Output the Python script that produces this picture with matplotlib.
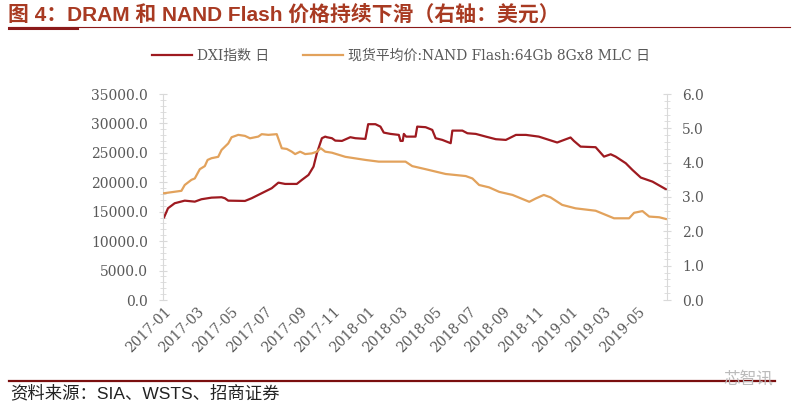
import matplotlib.pyplot as plt
import matplotlib.dates as mdates
from matplotlib.ticker import MultipleLocator, FormatStrFormatter
import numpy as np
import pandas as pd

#----------------------------------------------------------------------------------------#
# Data

dxi_dates = ["2017-01-01", "2017-01-08", "2017-01-20", "2017-02-07", "2017-02-25", "2017-03-09",
             "2017-03-27", "2017-04-14", "2017-04-20", "2017-04-26", "2017-05-26", "2017-06-07",
             "2017-06-25", "2017-07-13", "2017-07-25", "2017-08-06", "2017-08-27", "2017-09-05",
             "2017-09-17", "2017-09-26", "2017-10-02", "2017-10-11", "2017-10-17", "2017-10-20",
             "2017-10-29", "2017-11-04", "2017-11-16", "2017-12-01", "2017-12-10", "2017-12-28",
             "2018-01-02", "2018-01-15", "2018-01-24", "2018-01-30", "2018-02-11", "2018-02-26",
             "2018-03-01", "2018-03-05", "2018-03-07", "2018-03-11", "2018-03-28", "2018-03-31",
             "2018-04-15", "2018-04-27", "2018-05-03", "2018-05-15", "2018-05-30", "2018-06-02",
             "2018-06-20", "2018-06-29", "2018-07-14", "2018-08-01", "2018-08-19", "2018-09-06",
             "2018-09-24", "2018-10-12", "2018-11-04", "2018-12-07", "2018-12-31", "2019-01-06",
             "2019-01-18", "2019-02-14", "2019-03-01", "2019-03-13", "2019-03-22", "2019-04-09",
             "2019-04-21", "2019-05-06", "2019-05-27", "2019-06-20"]
dxi_values = [14060, 15590, 16440, 16880, 16710, 17120,
              17390, 17460, 17290, 16880, 16830, 17290,
              18140, 18990, 19940, 19720, 19720, 20400,
              21250, 22660, 24940, 27490, 27760, 27660,
              27490, 27080, 27030, 27660, 27490, 27370,
              29870, 29870, 29460, 28440, 28220, 28050,
              27030, 27030, 28220, 27760, 27760, 29460,
              29360, 28900, 27490, 27200, 26640, 28780,
              28780, 28330, 28220, 27760, 27320, 27200,
              28050, 28050, 27760, 26760, 27610, 27030,
              26060, 25960, 24360, 24760, 24360, 23240,
              22100, 20800, 20110, 18820]

nand_dates = ["2017-01-01", "2017-02-01", "2017-02-07", "2017-02-19", "2017-02-25", "2017-03-06",
              "2017-03-15", "2017-03-20", "2017-03-27", "2017-04-08", "2017-04-14", "2017-04-26",
              "2017-05-02", "2017-05-14", "2017-05-26", "2017-06-04", "2017-06-19", "2017-06-25",
              "2017-07-07", "2017-07-22", "2017-07-31", "2017-08-09", "2017-08-18", "2017-08-24",
              "2017-09-02", "2017-09-11", "2017-09-23", "2017-10-02", "2017-10-09", "2017-10-17",
              "2017-10-29", "2017-11-22", "2017-12-28", "2018-01-21", "2018-03-10", "2018-03-22",
              "2018-04-15", "2018-05-03", "2018-05-21", "2018-06-26", "2018-07-08", "2018-07-20",
              "2018-08-07", "2018-08-25", "2018-09-18", "2018-10-03", "2018-10-18", "2018-10-30",
              "2018-11-13", "2018-11-25", "2018-12-16", "2019-01-09", "2019-02-14", "2019-03-19",
              "2019-04-15", "2019-04-24", "2019-05-09", "2019-05-21", "2019-06-08", "2019-06-20"]
nand_values = [3.11, 3.18, 3.35, 3.50, 3.54, 3.81,
               3.90, 4.08, 4.13, 4.17, 4.37, 4.56,
               4.74, 4.81, 4.78, 4.71, 4.76, 4.83,
               4.81, 4.83, 4.42, 4.40, 4.32, 4.25,
               4.32, 4.25, 4.27, 4.32, 4.42, 4.32,
               4.29, 4.17, 4.08, 4.03, 4.03, 3.90,
               3.81, 3.74, 3.67, 3.61, 3.54, 3.35,
               3.28, 3.15, 3.06, 2.96, 2.86, 2.96,
               3.06, 2.99, 2.77, 2.67, 2.60, 2.38,
               2.38, 2.54, 2.59, 2.43, 2.41, 2.36]

dxi_label = "DXI指数 日"
nand_label = "现货平均价:NAND Flash:64Gb 8Gx8 MLC 日"
title = "图 4：DRAM 和 NAND Flash 价格持续下滑（右轴：美元）"
source = "资料来源：SIA、WSTS、招商证券"

#----------------------------------------------------------------------------------------#
# Styles

red = "#9e1a20"
tan = "#e2a25c"
grey_txt = "#595959"
spine_col = "#d9d9d9"
serif = ["DejaVu Serif", "Noto Sans CJK SC"]
sans = ["Liberation Sans", "Noto Sans CJK SC"]

fig = plt.figure(figsize=(7.99, 4.11), dpi=100)
ax = fig.add_axes([163/799, 1-300/411, (667-163)/799, (300-94)/411])
ax2 = ax.twinx()

ax.plot(pd.to_datetime(dxi_dates), dxi_values, color=red, lw=1.6, label=dxi_label)
ax2.plot(pd.to_datetime(nand_dates), nand_values, color=tan, lw=1.6, label=nand_label)

ax.set_ylim(0, 35000)
ax2.set_ylim(0, 6)
ax.set_xlim(pd.Timestamp("2016-12-30"), pd.Timestamp("2019-06-22"))

ax.yaxis.set_major_locator(MultipleLocator(5000))
ax.yaxis.set_minor_locator(MultipleLocator(1000))
ax.yaxis.set_major_formatter(FormatStrFormatter("%.1f"))
ax2.yaxis.set_major_locator(MultipleLocator(1.0))
ax2.yaxis.set_minor_locator(MultipleLocator(0.2))
ax2.yaxis.set_major_formatter(FormatStrFormatter("%.1f"))

ax.xaxis.set_major_locator(mdates.MonthLocator(bymonth=[1, 3, 5, 7, 9, 11]))
ax.xaxis.set_major_formatter(mdates.DateFormatter("%Y-%m"))

for a in (ax, ax2):
    for s in a.spines.values():
        s.set_visible(False)
ax.spines["left"].set_visible(True)
ax.spines["left"].set_color(spine_col)
ax2.spines["right"].set_visible(True)
ax2.spines["right"].set_color(spine_col)

ax.tick_params(axis="y", which="major", direction="inout", length=6, color=spine_col,
               labelsize=10, labelcolor=grey_txt, pad=8)
ax.tick_params(axis="y", which="minor", direction="inout", length=4, color=spine_col)
ax2.tick_params(axis="y", which="major", direction="inout", length=6, color=spine_col,
                labelsize=10, labelcolor=grey_txt, pad=8)
ax2.tick_params(axis="y", which="minor", direction="inout", length=4, color=spine_col)
ax.tick_params(axis="x", length=0, labelsize=10, labelcolor=grey_txt, pad=3)

for lab in ax.get_yticklabels() + ax2.get_yticklabels() + ax.get_xticklabels():
    lab.set_family(serif)
for lab in ax.get_xticklabels():
    lab.set_rotation(45)
    lab.set_ha("right")
    lab.set_rotation_mode("anchor")

h1, l1 = ax.get_legend_handles_labels()
h2, l2 = ax2.get_legend_handles_labels()
fig.legend(h1 + h2, l1 + l2, loc="center", bbox_to_anchor=(401/799, 1-56/411), ncol=2,
           frameon=False, prop={"family": serif, "size": 10}, handlelength=2.9,
           handletextpad=0.35, columnspacing=2.4, labelcolor=grey_txt)

# Title, rules and source
fig.text(8/799, 1-15/411, title, fontsize=15, fontweight="bold", color="#a83a22",
         family=sans, va="center", ha="left")
fig.add_artist(plt.Line2D([9/799, 790/799], [1-27/411, 1-27/411], color="#8b1a1a", lw=0.8))
fig.add_artist(plt.Line2D([9/799, 77/799], [1-28/411, 1-28/411], color="#8b1a1a", lw=2.2))
fig.add_artist(plt.Line2D([9/799, 775/799], [1-381/411, 1-381/411], color="#7a0f0f", lw=1.6))
fig.text(10/799, 1-393/411, source, fontsize=12.5, color="#222222", family=sans,
         va="center", ha="left")
fig.text(748/799, 1-379/411, "芯智讯", fontsize=12, color="#bbbbbb", family=sans,
         va="center", ha="center")

plt.savefig("out.png", dpi=100)
